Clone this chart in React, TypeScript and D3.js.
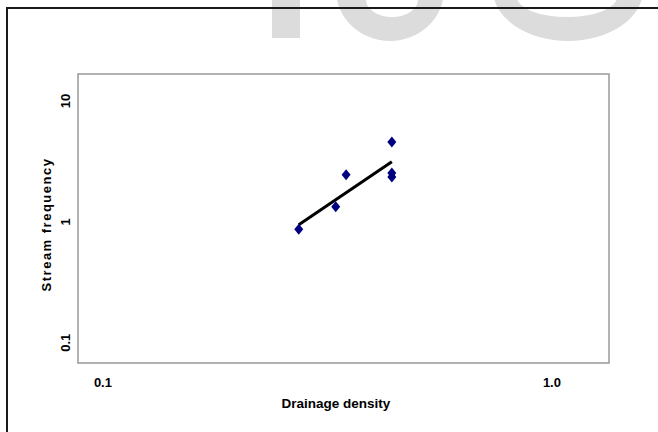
import React from "react";
import * as d3 from "d3";

// values
const drainageDensity = [0.273, 0.33, 0.348, 0.44, 0.44, 0.44];
const streamFrequency = [0.87, 1.33, 2.45, 4.58, 2.54, 2.35];
const xTicks = [0.1, 1.0];
const yTicks = [0.1, 1, 10];
const xTitle = "Drainage density";
const yTitle = "Stream frequency";

const W = 658;
const H = 432;
const plot = { left: 78, right: 609, top: 74, bottom: 363 };

// power fit in log-log space (the trend line)
function powerFit(xs: number[], ys: number[]) {
  const lx = xs.map(Math.log10);
  const ly = ys.map(Math.log10);
  const mx = d3.mean(lx)!;
  const my = d3.mean(ly)!;
  let sxy = 0, sxx = 0;
  lx.forEach((v, i) => {
    sxy += (v - mx) * (ly[i] - my);
    sxx += (v - mx) * (v - mx);
  });
  const b = sxy / sxx;
  const a = my - b * mx;
  return (x: number) => Math.pow(10, a + b * Math.log10(x));
}

const diamond = "M0,-5.5L4.5,0L0,5.5L-4.5,0Z";

export default function App() {
  const x = d3.scaleLog().domain([0.088, 1.34]).range([plot.left, plot.right]);
  const y = d3.scaleLog().domain([0.068, 16.7]).range([plot.bottom, plot.top]);

  const fit = powerFit(drainageDensity, streamFrequency);
  const [x0, x1] = d3.extent(drainageDensity) as [number, number];
  const trend = d3.line<number>().x(d => x(d)).y(d => y(fit(d)))([x0, x1]);

  const font = "'Liberation Sans', Arial, sans-serif";

  return (
    <svg width={W} height={H} style={{ position: "absolute", left: 0, top: 0 }}>
      <rect width={W} height={H} fill="white" />
      {/* watermark, cut off at the top */}
      <g fill="#dcdcdc" fillRule="evenodd">
        <rect x={272} y={-10} width={28} height={48} />
        <path d={`M336,-10 a54,51 0 1,0 108,0 a54,51 0 1,0 -108,0 Z M366,0 a26,17 0 1,0 52,0 a26,17 0 1,0 -52,0 Z`} />
        <path d={`M493,-10 a75,51 0 1,0 150,0 a75,51 0 1,0 -150,0 Z M517,-3 a50,20 0 1,0 100,0 a50,20 0 1,0 -100,0 Z`} />
      </g>
      {/* outer frame */}
      <rect x={7} y={8} width={700} height={500} fill="none" stroke="#1a1a1a" strokeWidth={2} />
      {/* plot area */}
      <rect x={plot.left} y={plot.top} width={plot.right - plot.left} height={plot.bottom - plot.top}
        fill="white" stroke="#999" strokeWidth={1.5} />

      {xTicks.map(t => (
        <text key={t} x={x(t)} y={387} textAnchor="middle" fontFamily={font} fontWeight="bold" fontSize={13}>
          {d3.format(".1f")(t)}
        </text>
      ))}
      {yTicks.map(t => (
        <text key={t} transform={`translate(70,${y(t)})rotate(-90)`} textAnchor="middle"
          fontFamily={font} fontWeight="bold" fontSize={13}>
          {t}
        </text>
      ))}
      <text x={336} y={408} textAnchor="middle" fontFamily={font} fontWeight="bold" fontSize={13.5}>
        {xTitle}
      </text>
      <text transform={`translate(51,${(plot.top + plot.bottom) / 2 + 6})rotate(-90)`} textAnchor="middle"
        fontFamily={font} fontWeight="bold" fontSize={13} letterSpacing={1.5}>
        {yTitle}
      </text>

      <path d={trend ?? ""} fill="none" stroke="black" strokeWidth={3} />
      {drainageDensity.map((d, i) => (
        <path key={i} d={diamond} transform={`translate(${x(d)},${y(streamFrequency[i])})`} fill="#000080" />
      ))}
    </svg>
  );
}
